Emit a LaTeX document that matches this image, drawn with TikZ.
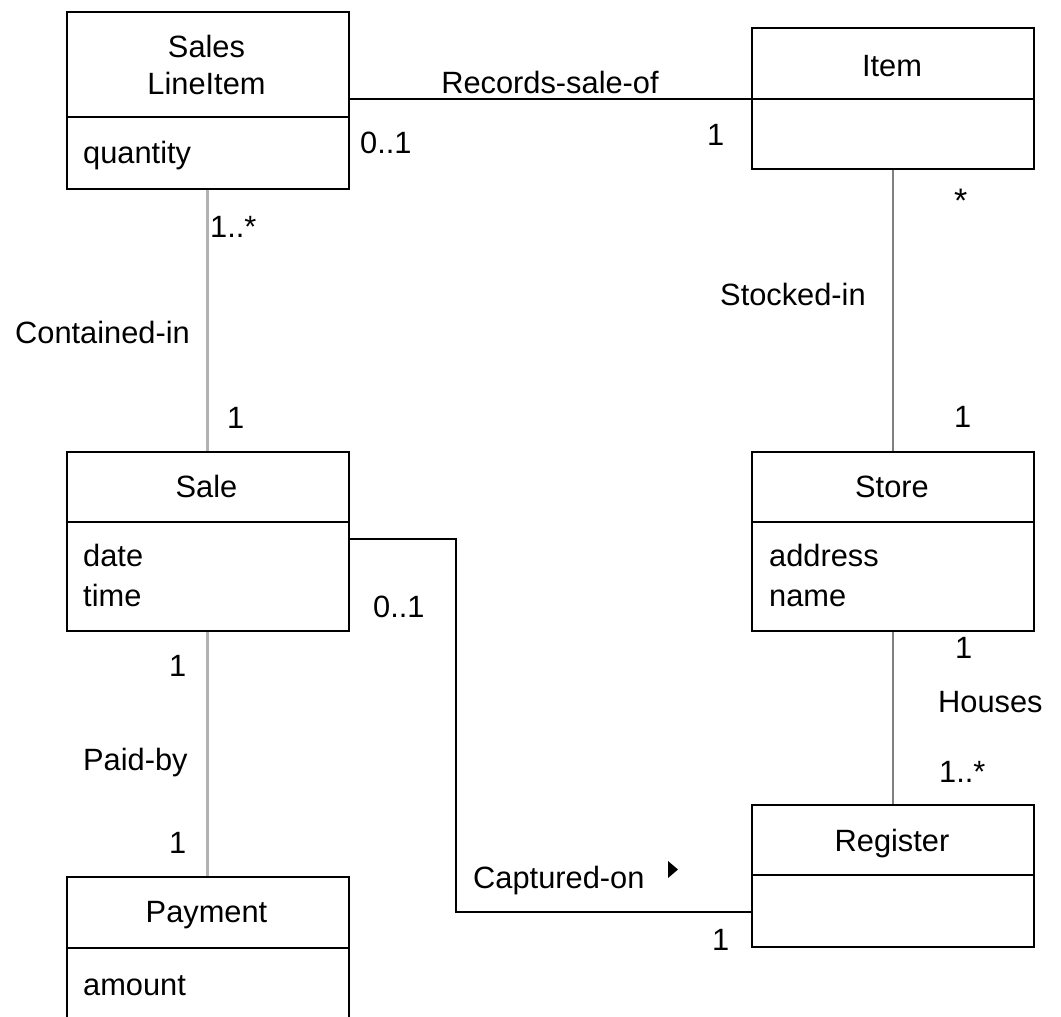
\documentclass[tikz,border=0pt]{standalone}
\usepackage{fontspec}
\setmainfont{Liberation Sans}
\begin{document}
\begin{tikzpicture}[x=1pt,y=-1pt,
  cls/.style={draw=black, line width=2pt, rectangle, anchor=north west, inner sep=0pt, minimum width=282pt},
  txt/.style={inner sep=0pt, font=\fontsize{30.8}{36}\selectfont},
  divline/.style={draw=black, line width=2pt},
  lite/.style={draw=black!30, line width=3.5pt},
  dark/.style={draw=black!50, line width=2pt},
  assoc/.style={draw=black, line width=2pt}]
\useasboundingbox (0,0) rectangle (1061,1017);
\clip (0,0) rectangle (1061,1017);
\fill[white] (0,0) rectangle (1061,1017);

% classes
\node[cls, minimum height=177pt] (sli) at (65.5,11) {};
\node[cls, minimum height=141pt] (item) at (751,27) {};
\node[cls, minimum height=179pt] (sale) at (65.5,451) {};
\node[cls, minimum height=179pt] (store) at (751,451) {};
\node[cls, minimum height=142pt] (register) at (751,804) {};
\node[cls, minimum height=180pt] (payment) at (65.5,876) {};

% dividers
\draw[divline] (sli.west |- 0,117) -- (sli.east |- 0,117);
\draw[divline] (item.west |- 0,99) -- (item.east |- 0,99);
\draw[divline] (sale.west |- 0,522) -- (sale.east |- 0,522);
\draw[divline] (store.west |- 0,522) -- (store.east |- 0,522);
\draw[divline] (register.west |- 0,875) -- (register.east |- 0,875);
\draw[divline] (payment.west |- 0,948) -- (payment.east |- 0,948);

% class texts
\node[txt, anchor=base] (tsales) at (206.5,57) {Sales};
\node[txt, anchor=base] (tline) at (206.5,94) {LineItem};
\node[txt, anchor=base west] (tqty) at (83,163) {quantity};
\node[txt, anchor=base] (titem) at (892,76) {Item};
\node[txt, anchor=base] (tsale) at (206.5,497) {Sale};
\node[txt, anchor=base west] (tdate) at (83,566) {date};
\node[txt, anchor=base west] (ttime) at (83,606) {time};
\node[txt, anchor=base] (tstore) at (892,497) {Store};
\node[txt, anchor=base west] (taddr) at (769,566) {address};
\node[txt, anchor=base west] (tname) at (769,606) {name};
\node[txt, anchor=base] (treg) at (892,851) {Register};
\node[txt, anchor=base] (tpay) at (206.5,922) {Payment};
\node[txt, anchor=base west] (tamt) at (83,995) {amount};

% connection points
\coordinate (recL) at (sli.east |- 0,99);
\coordinate (recR) at (item.west |- 0,99);
\coordinate (capA) at (sale.east |- 0,539);
\coordinate (capB) at (456,539);
\coordinate (capC) at (register.west |- 0,912);

% associations
\draw[assoc] (recL) -- (recR);
\draw[lite] (sli.south) -- (sale.north);
\draw[lite] (sale.south) -- (payment.north);
\draw[dark] (item.south) -- (store.north);
\draw[dark] (store.south) -- (register.north);
\draw[assoc] (capA) -- (capB) |- (capC);

% association labels
\node[txt, anchor=base] (lrec) at (550,93) {Records-sale-of};
\node[txt, anchor=base west] (lrec1) at (360,153) {0..1};
\node[txt, anchor=base west] (lrec2) at (707,145) {1};

\node[txt, anchor=base west] (lcon1) at (210,237) {1..*};
\node[txt, anchor=base west] (lcon) at (15,343) {Contained-in};
\node[txt, anchor=base west] (lcon2) at (227,428) {1};

\node[txt, anchor=base west] (lsto1) at (954,212) {\fontsize{34}{36}\selectfont *};
\node[txt, anchor=base west] (lsto) at (720,305) {Stocked-in};
\node[txt, anchor=base west] (lsto2) at (954,427) {1};

\node[txt, anchor=base west] (lhou1) at (955,658) {1};
\node[txt, anchor=base west] (lhou) at (938,712) {Houses};
\node[txt, anchor=base west] (lhou2) at (939,782) {1..*};

\node[txt, anchor=base west] (lpay1) at (169,676) {1};
\node[txt, anchor=base west] (lpay) at (83,770) {Paid-by};
\node[txt, anchor=base west] (lpay2) at (169,853) {1};

\node[txt, anchor=base west] (lcap1) at (373,617) {0..1};
\node[txt, anchor=base west] (lcap) at (473,888) {Captured-on};
\node[txt, anchor=base west] (lcap2) at (712,950) {1};
\fill[black] (668,861) -- (668,878) -- (678,869.5) -- cycle;
\end{tikzpicture}
\end{document}
